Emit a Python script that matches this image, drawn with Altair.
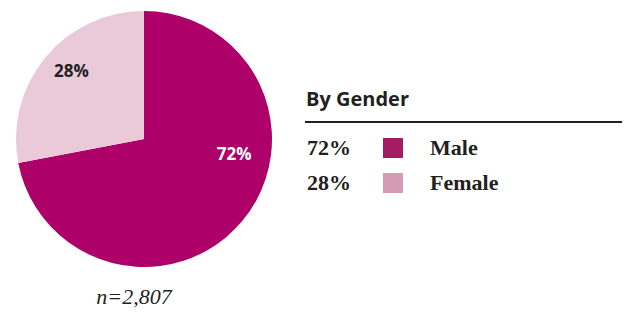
import altair as alt
import pandas as pd

genders = ["Male", "Female"]
shares = [72, 28]
pie_labels = ["72%", "28%"]
pie_colors = ["#ad0068", "#eacad9"]
legend_colors = ["#a51b64", "#d49ab3"]
legend_title = "By Gender"
footnote = "n=2,807"

df = pd.DataFrame({
    "gender": genders,
    "share": shares,
    "label": pie_labels,
    "idx": list(range(len(genders))),
})

CX, CY, R = 136, 131, 128
base = alt.Chart(df)

theta = alt.Theta("share:Q", stack=True)
order = alt.Order("idx:Q")

pie = base.mark_arc(outerRadius=R, stroke=None).encode(
    theta=theta,
    order=order,
    color=alt.Color("gender:N", scale=alt.Scale(domain=genders, range=pie_colors), legend=None),
    x=alt.value(CX), y=alt.value(CY),
)

male_lbl = base.mark_text(
    radius=91, dx=20, dy=-42, font="Open Sans", fontWeight="bold", fontSize=17,
    color="white", align="center", baseline="middle",
).encode(
    theta=theta, order=order,
    text=alt.condition(alt.datum.gender == "Male", "label:N", alt.value("")),
    x=alt.value(CX), y=alt.value(CY),
)

female_lbl = base.mark_text(
    radius=98, dx=3, dy=-5, font="Open Sans", fontWeight="bold", fontSize=17,
    color="#222222", align="center", baseline="middle",
).encode(
    theta=theta, order=order,
    text=alt.condition(alt.datum.gender == "Female", "label:N", alt.value("")),
    x=alt.value(CX), y=alt.value(CY),
)

ypos = alt.Y("gender:N", scale=alt.Scale(type="point", domain=genders, range=[140, 175], padding=0), axis=None)

leg_pct = base.mark_text(
    font="Liberation Serif", fontWeight="bold", fontSize=22, color="#231f20",
    align="left", baseline="middle",
).encode(y=ypos, x=alt.value(299), text="label:N")

leg_name = base.mark_text(
    font="Liberation Serif", fontWeight="bold", fontSize=22, color="#231f20",
    align="left", baseline="middle",
).encode(y=ypos, x=alt.value(422), text="gender:N")

leg_sw = base.mark_square(size=400, opacity=1).encode(
    y=ypos, x=alt.value(385),
    fill=alt.Fill("gender:N", scale=alt.Scale(domain=genders, range=legend_colors), legend=None),
)

title_df = pd.DataFrame({"t": [legend_title]})
title_txt = alt.Chart(title_df).mark_text(
    font="Open Sans", fontWeight="bold", fontSize=20, color="#231f20",
    align="left", baseline="middle",
).encode(x=alt.value(298), y=alt.value(92), text="t:N")

rule = alt.Chart(title_df).mark_rule(color="#231f20", strokeWidth=2).encode(
    x=alt.value(297), x2=alt.value(614), y=alt.value(114)
)

foot_df = pd.DataFrame({"t": [footnote]})
foot = alt.Chart(foot_df).mark_text(
    font="Liberation Serif", fontStyle="italic", fontSize=22, color="#231f20",
    align="center", baseline="middle",
).encode(x=alt.value(126), y=alt.value(289), text="t:N")

chart = alt.layer(
    pie, male_lbl, female_lbl, title_txt, rule, leg_pct, leg_sw, leg_name, foot
).resolve_scale(color="independent").properties(
    width=624, height=300, padding=0, autosize=alt.AutoSizeParams(type="none")
).configure_view(stroke=None)

chart.save("out.html", embed_options={"renderer": "svg", "actions": False})
